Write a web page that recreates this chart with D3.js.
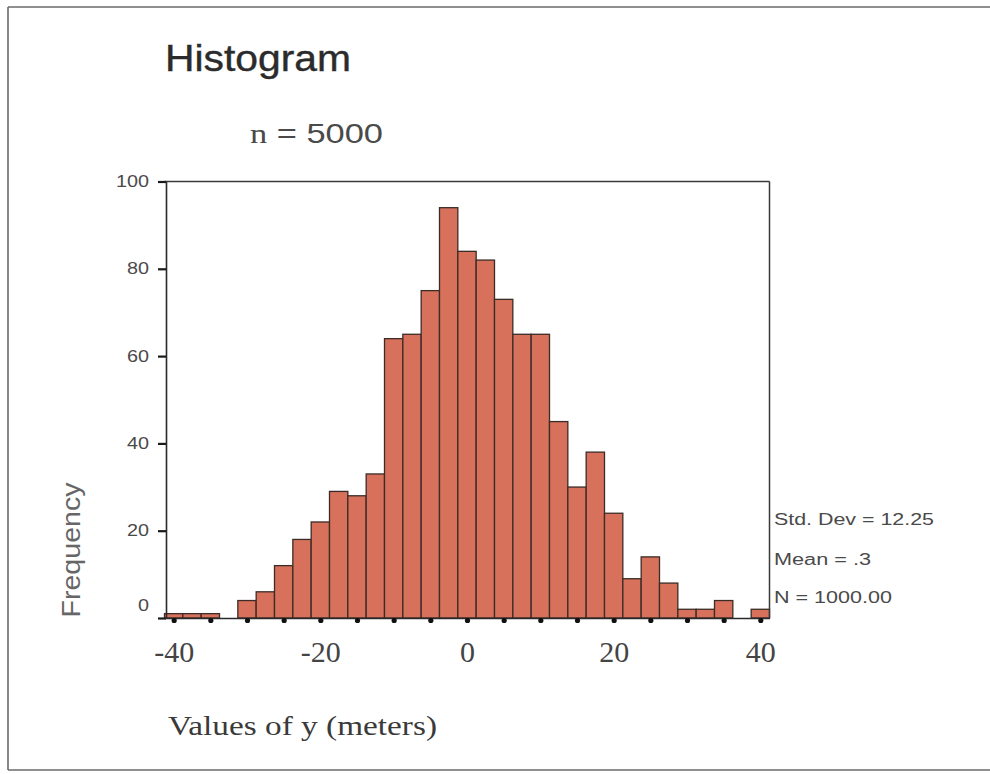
<!DOCTYPE html>
<html>
<head>
<meta charset="utf-8">
<script src="https://cdn.jsdelivr.net/npm/d3@7"></script>
<style>
  html, body { margin: 0; padding: 0; background: #ffffff; }
  svg { display: block; }
</style>
</head>
<body>
<div id="chart"></div>
<script>
// ---- data ----
const binMids = [-40, -37.5, -35, -32.5, -30, -27.5, -25, -22.5, -20, -17.5, -15, -12.5,
                 -10, -7.5, -5, -2.5, 0, 2.5, 5, 7.5, 10, 12.5, 15, 17.5, 20, 22.5, 25,
                 27.5, 30, 32.5, 35, 37.5, 40];
const counts  = [1, 1, 1, 0, 4, 6, 12, 18, 22, 29, 28, 33,
                 64, 65, 75, 94, 84, 82, 73, 65, 65, 45, 30, 38, 24, 9, 14,
                 8, 2, 2, 4, 0, 2];
const binWidth = 2.5;
const xTickLabels = [-40, -20, 0, 20, 40];
const xDotTicks = [-40, -35, -30, -25, -20, -15, -10, -5, 0, 5, 10, 15, 20, 25, 30, 35, 40];
const yTickLabels = [0, 20, 40, 60, 80, 100];
const titleText = "Histogram";
const subtitleText = ["n", " = 5000"];
const xTitle = "Values of y (meters)";
const yTitle = "Frequency";
const statsLines = ["Std. Dev = 12.25", "Mean = .3", "N = 1000.00"];

// ---- layout ----
const W = 990, H = 774;
const svg = d3.select("#chart").append("svg").attr("width", W).attr("height", H);

svg.append("rect").attr("width", W).attr("height", H).attr("fill", "#ffffff");

// outer frame (top, left, bottom)
const frame = svg.append("g").attr("stroke", "#6a6a6a").attr("stroke-width", 1.6).attr("fill", "none");
frame.append("line").attr("x1", 8).attr("y1", 7).attr("x2", 990).attr("y2", 7);
frame.append("line").attr("x1", 8).attr("y1", 7).attr("x2", 8).attr("y2", 770);
frame.append("line").attr("x1", 8).attr("y1", 770).attr("x2", 990).attr("y2", 770);

const x = d3.scaleLinear().domain([-41.25, 41.25]).range([164.5, 769.5]);
const y = d3.scaleLinear().domain([0, 100]).range([618, 181.5]);

const data = binMids.map((m, i) => ({ mid: m, count: counts[i] }));

// bars
svg.append("g")
  .selectAll("rect")
  .data(data.filter(d => d.count > 0))
  .join("rect")
  .attr("x", d => x(d.mid - binWidth / 2))
  .attr("width", d => x(d.mid + binWidth / 2) - x(d.mid - binWidth / 2))
  .attr("y", d => y(d.count))
  .attr("height", d => y(0) - y(d.count))
  .attr("fill", "#d7715b")
  .attr("stroke", "#3b2c27")
  .attr("stroke-width", 1.3);

// plot box: top and right edges
const box = svg.append("g").attr("stroke", "#3a3a3a").attr("stroke-width", 1.5);
box.append("line").attr("x1", x.range()[0]).attr("x2", x.range()[1]).attr("y1", y(100)).attr("y2", y(100));
box.append("line").attr("x1", x.range()[1]).attr("x2", x.range()[1]).attr("y1", y(100)).attr("y2", y(0));

// y axis
const yAxis = svg.append("g")
  .attr("transform", `translate(${x.range()[0] + 1.5},0)`)
  .call(d3.axisLeft(y).tickValues(yTickLabels).tickSize(8).tickPadding(9).tickSizeOuter(0));
yAxis.select(".domain").attr("stroke", "#2a2a2a").attr("stroke-width", 1.6);
yAxis.selectAll(".tick line").attr("stroke", "#1a1a1a").attr("stroke-width", 2.2);
yAxis.selectAll(".tick text")
  .attr("font-family", "Liberation Sans, Arial, sans-serif")
  .attr("font-size", 16)
  .attr("fill", "#4a4a4a")
  .attr("textLength", d => String(d).length * 11)
  .attr("lengthAdjust", "spacingAndGlyphs")
  .attr("dy", d => d === 0 ? "-0.45em" : "0.32em");

// x axis (baseline + dot ticks)
const xAxis = svg.append("g")
  .attr("transform", `translate(0,${y(0)})`)
  .call(d3.axisBottom(x).tickValues(xDotTicks).tickSize(2).tickFormat("").tickSizeOuter(0));
xAxis.select(".domain").attr("stroke", "#2a2a2a").attr("stroke-width", 1.6);
xAxis.selectAll(".tick line").attr("stroke", "#111").attr("stroke-width", 1.5);
xAxis.selectAll(".tick").append("circle").attr("cx", 0).attr("cy", 2.5).attr("r", 2.6).attr("fill", "#111");

// x tick labels (plain hyphen minus, as in the reference)
const xLab = svg.append("g")
  .attr("transform", `translate(0,${y(0)})`)
  .call(d3.axisBottom(x).tickValues(xTickLabels).tickSize(0).tickFormat(d => String(d)));
xLab.select(".domain").remove();
xLab.selectAll(".tick text")
  .attr("y", 44).attr("dy", 0)
  .attr("font-family", "Liberation Serif, Times New Roman, serif")
  .attr("font-size", 30)
  .attr("fill", "#444444");

// titles
svg.append("text")
  .attr("x", 165).attr("y", 71)
  .attr("font-family", "Liberation Sans, Arial, sans-serif")
  .attr("font-size", 37)
  .attr("fill", "#2b2b2b")
  .attr("stroke", "#2b2b2b").attr("stroke-width", 0.4)
  .attr("textLength", 186).attr("lengthAdjust", "spacingAndGlyphs")
  .text(titleText);

const sub = svg.append("text")
  .attr("x", 250).attr("y", 143)
  .attr("font-size", 28)
  .attr("fill", "#4a4a4a")
  .attr("textLength", 133).attr("lengthAdjust", "spacingAndGlyphs");
sub.append("tspan").attr("font-family", "Liberation Serif, Times New Roman, serif").text(subtitleText[0]);
sub.append("tspan").attr("font-family", "Liberation Sans, Arial, sans-serif").text(subtitleText[1]);

svg.append("text")
  .attr("x", 168).attr("y", 735)
  .attr("font-family", "Liberation Serif, Times New Roman, serif")
  .attr("font-size", 27)
  .attr("fill", "#3a3a3a")
  .attr("textLength", 269).attr("lengthAdjust", "spacingAndGlyphs")
  .text(xTitle);

svg.append("text")
  .attr("transform", "translate(80,550) rotate(-90)")
  .attr("text-anchor", "middle")
  .attr("font-family", "Liberation Sans, Arial, sans-serif")
  .attr("font-size", 25)
  .attr("fill", "#666666")
  .attr("textLength", 135).attr("lengthAdjust", "spacingAndGlyphs")
  .text(yTitle);

// stats box text
const statY = [525, 565, 603];
const statW = [160, 97, 118];
svg.append("g").selectAll("text")
  .data(statsLines)
  .join("text")
  .attr("x", 774)
  .attr("y", (d, i) => statY[i])
  .attr("font-family", "Liberation Sans, Arial, sans-serif")
  .attr("font-size", 16)
  .attr("fill", "#4a4a4a")
  .attr("textLength", (d, i) => statW[i]).attr("lengthAdjust", "spacingAndGlyphs")
  .text(d => d);
</script>
</body>
</html>
